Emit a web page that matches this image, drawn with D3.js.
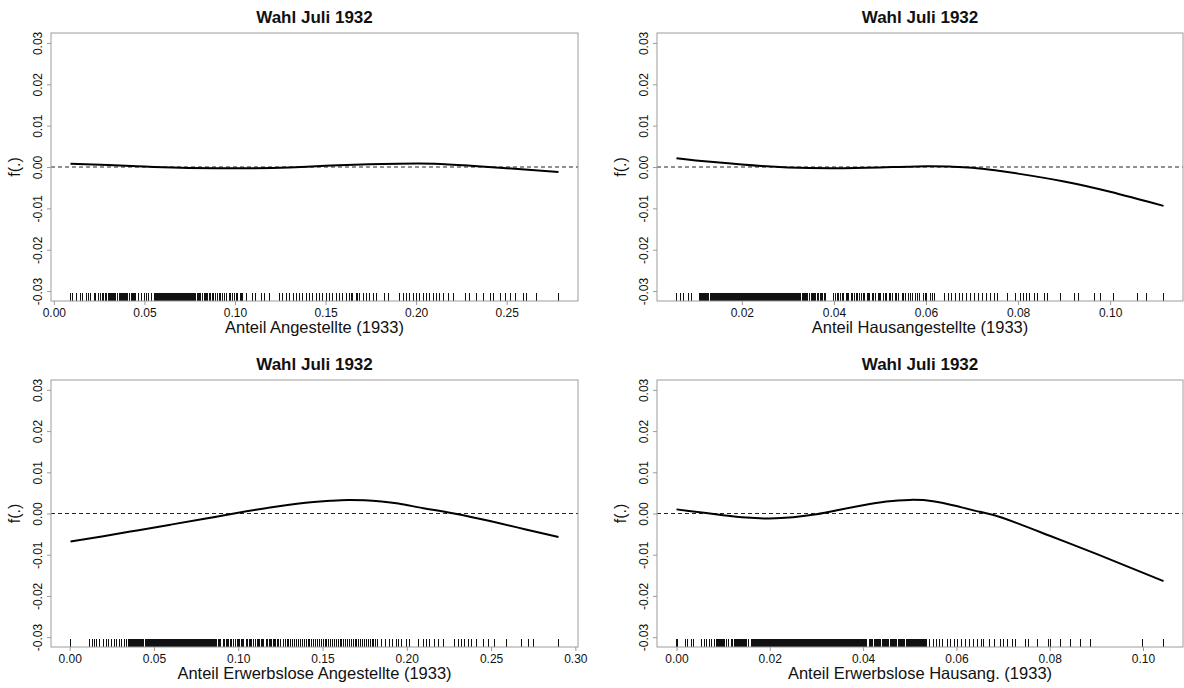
<!DOCTYPE html>
<html>
<head>
<meta charset="utf-8">
<script src="https://cdn.jsdelivr.net/npm/d3@7"></script>
<style>
  body { margin: 0; background: #fff; }
  text { font-family: "Liberation Sans", Arial, sans-serif; fill: #111; }
</style>
</head>
<body>
<div id="gam_plots"></div>
<script>
const rugAng = [
  0.0092, 0.0105, 0.0124, 0.0148, 0.0157, 0.0179, 0.0194, 0.0205, 0.0222, 0.0231, 0.0246, 0.0258,
  0.0271, 0.0275, 0.0283, 0.0287, 0.0292, 0.0301, 0.0305, 0.0311, 0.0319, 0.0323, 0.0331, 0.0335,
  0.0341, 0.0349, 0.0353, 0.0362, 0.0366, 0.0371, 0.0379, 0.0384, 0.0389, 0.0397, 0.0402, 0.0407,
  0.0415, 0.0419, 0.0426, 0.0433, 0.0437, 0.0443,
  0.0452, 0.0467, 0.0485, 0.0498, 0.0511, 0.0522, 0.0541, 0.0554,
  0.0563, 0.0569, 0.0575, 0.0581, 0.0588, 0.0595, 0.0600, 0.0608, 0.0614, 0.0622, 0.0627, 0.0634,
  0.0640, 0.0649, 0.0655, 0.0662, 0.0668, 0.0676, 0.0683, 0.0690, 0.0697, 0.0705, 0.0712, 0.0720,
  0.0728, 0.0735, 0.0741, 0.0749, 0.0757, 0.0766, 0.0774,
  0.0566, 0.0572, 0.0578, 0.0585, 0.0591, 0.0598, 0.0604, 0.0611, 0.0618, 0.0625, 0.0631, 0.0637,
  0.0644, 0.0652, 0.0658, 0.0665, 0.0672, 0.0680, 0.0686, 0.0694, 0.0701, 0.0708, 0.0716, 0.0724,
  0.0731, 0.0738, 0.0745, 0.0753, 0.0761, 0.0770,
  0.0784, 0.0799, 0.0812, 0.0830, 0.0840, 0.0858, 0.0877, 0.0891, 0.0913, 0.0932,
  0.0791, 0.0805, 0.0821, 0.0835, 0.0849, 0.0867, 0.0884, 0.0902, 0.0922, 0.0955, 0.0977, 0.1006,
  0.1035,
  0.0941, 0.0969, 0.0984, 0.0997, 0.1015, 0.1028, 0.1043,
  0.1061, 0.1098, 0.1116, 0.1144, 0.1162, 0.1190,
  0.1246, 0.1264, 0.1283, 0.1301, 0.1323, 0.1338, 0.1356, 0.1375, 0.1393, 0.1412, 0.1430, 0.1448,
  0.1467, 0.1485, 0.1504,
  0.1522, 0.1541, 0.1559, 0.1578, 0.1596, 0.1615, 0.1633, 0.1642, 0.1651, 0.1670, 0.1679, 0.1688,
  0.1707, 0.1725, 0.1744, 0.1762, 0.1781, 0.1827, 0.1845,
  0.1910, 0.1928, 0.1947, 0.1965, 0.1984, 0.2002, 0.2020, 0.2039, 0.2057, 0.2076, 0.2094, 0.2112,
  0.2131, 0.2149, 0.2177, 0.2205,
  0.2270, 0.2297, 0.2334, 0.2371, 0.2408, 0.2427, 0.2464, 0.2491, 0.2519, 0.2547, 0.2593, 0.2611,
  0.2666, 0.2786
];

const rugHaus = [
  0.0058, 0.0067, 0.0074, 0.0084, 0.0091,
  0.0107, 0.0110, 0.0114, 0.0117, 0.0121, 0.0125, 0.0128, 0.0133, 0.0136, 0.0140, 0.0144, 0.0147,
  0.0151, 0.0155, 0.0158, 0.0162, 0.0166, 0.0169, 0.0173, 0.0177, 0.0180, 0.0184, 0.0188, 0.0191,
  0.0195, 0.0199,
  0.0109, 0.0112, 0.0116, 0.0119, 0.0123, 0.0127, 0.0131, 0.0135, 0.0138, 0.0142, 0.0146, 0.0149,
  0.0153, 0.0157, 0.0160, 0.0164, 0.0168, 0.0171, 0.0175, 0.0179, 0.0182, 0.0186, 0.0190, 0.0193,
  0.0197, 0.0201,
  0.0203, 0.0206, 0.0209, 0.0212, 0.0215, 0.0218, 0.0221, 0.0224, 0.0227, 0.0230, 0.0233, 0.0236,
  0.0239, 0.0242, 0.0245, 0.0248, 0.0251, 0.0254, 0.0257, 0.0260, 0.0263, 0.0266, 0.0269, 0.0272,
  0.0275, 0.0279, 0.0283, 0.0288, 0.0292, 0.0296, 0.0301, 0.0305, 0.0310, 0.0314, 0.0319, 0.0323,
  0.0328, 0.0333, 0.0338, 0.0343, 0.0348, 0.0353, 0.0358, 0.0364, 0.0370, 0.0376, 0.0381,
  0.0204, 0.0207, 0.0211, 0.0214, 0.0217, 0.0220, 0.0223, 0.0226, 0.0229, 0.0232, 0.0235, 0.0238,
  0.0241, 0.0244, 0.0247, 0.0250, 0.0253, 0.0256, 0.0259, 0.0262, 0.0265, 0.0268, 0.0271, 0.0274,
  0.0277, 0.0281, 0.0286, 0.0290, 0.0294, 0.0299, 0.0303, 0.0308, 0.0312, 0.0317, 0.0321, 0.0326,
  0.0331, 0.0336, 0.0341, 0.0346, 0.0351, 0.0356, 0.0361, 0.0367, 0.0373, 0.0379,
  0.0399, 0.0404, 0.0410, 0.0415, 0.0421, 0.0427, 0.0432, 0.0438, 0.0444, 0.0449, 0.0455, 0.0461,
  0.0467, 0.0472, 0.0478, 0.0484, 0.0490, 0.0496, 0.0502, 0.0508, 0.0514, 0.0520, 0.0527, 0.0534,
  0.0541, 0.0548, 0.0555, 0.0562, 0.0570, 0.0578, 0.0586, 0.0594, 0.0601, 0.0610, 0.0619,
  0.0407, 0.0418, 0.0430, 0.0441, 0.0452, 0.0464, 0.0475, 0.0487, 0.0499, 0.0511, 0.0524, 0.0537,
  0.0551, 0.0566, 0.0582, 0.0598, 0.0614,
  0.0640, 0.0648, 0.0656, 0.0664, 0.0672, 0.0680, 0.0689, 0.0697, 0.0706, 0.0714, 0.0723, 0.0731,
  0.0740, 0.0748, 0.0756,
  0.0777, 0.0795, 0.0806, 0.0812, 0.0818, 0.0825, 0.0835, 0.0842, 0.0857, 0.0864, 0.0893, 0.0922,
  0.0932, 0.0965, 0.0979, 0.1008, 0.1059, 0.1080, 0.1116
];

const rugErwAng = [
  0.0005, 0.0119, 0.0133, 0.0146, 0.0162, 0.0178, 0.0202, 0.0217, 0.0231, 0.0251, 0.0265, 0.0280,
  0.0296, 0.0310, 0.0324,
  0.0340, 0.0347, 0.0352, 0.0358, 0.0366, 0.0371, 0.0378, 0.0384, 0.0389, 0.0397, 0.0402, 0.0408,
  0.0416, 0.0421, 0.0427, 0.0434, 0.0439,
  0.0448, 0.0453, 0.0459, 0.0466, 0.0471, 0.0477, 0.0484, 0.0489, 0.0495, 0.0502, 0.0507, 0.0513,
  0.0519, 0.0526, 0.0531, 0.0537, 0.0544, 0.0549, 0.0555, 0.0562, 0.0567, 0.0573, 0.0580, 0.0585,
  0.0591, 0.0598, 0.0603, 0.0609, 0.0616, 0.0621, 0.0627, 0.0634, 0.0639, 0.0645, 0.0652, 0.0657,
  0.0663, 0.0670, 0.0675, 0.0681, 0.0688, 0.0693, 0.0699, 0.0706, 0.0711, 0.0717, 0.0724, 0.0729,
  0.0735, 0.0742, 0.0747, 0.0753, 0.0760, 0.0765, 0.0771, 0.0778, 0.0783, 0.0789, 0.0796, 0.0801,
  0.0807, 0.0814, 0.0819, 0.0825, 0.0832, 0.0837, 0.0843, 0.0850, 0.0855, 0.0861, 0.0868, 0.0873,
  0.0881, 0.0890, 0.0897, 0.0914, 0.0921, 0.0929, 0.0937, 0.0945, 0.0953, 0.0961, 0.0969, 0.0985,
  0.0993, 0.1001, 0.1009, 0.1017, 0.1025, 0.1033, 0.1048, 0.1056, 0.1064, 0.1072, 0.1080, 0.1088,
  0.1104, 0.1112, 0.1120, 0.1128, 0.1136, 0.1144, 0.1152, 0.1168, 0.1176, 0.1184, 0.1192, 0.1200,
  0.1208, 0.1216, 0.1224, 0.1232, 0.1240, 0.1248,
  0.1268, 0.1279, 0.1290, 0.1301, 0.1313, 0.1324, 0.1335, 0.1346, 0.1358, 0.1369, 0.1380, 0.1391,
  0.1403, 0.1414, 0.1425, 0.1436, 0.1448, 0.1459, 0.1470, 0.1481, 0.1493, 0.1504, 0.1515, 0.1526,
  0.1538, 0.1549, 0.1560, 0.1571, 0.1583, 0.1594, 0.1604,
  0.1614, 0.1625, 0.1636, 0.1648, 0.1659, 0.1670, 0.1681, 0.1693, 0.1704, 0.1715, 0.1726, 0.1738,
  0.1749, 0.1760, 0.1771, 0.1783, 0.1794, 0.1805, 0.1816, 0.1828, 0.1850, 0.1872, 0.1895, 0.1917,
  0.1940, 0.1949, 0.1969, 0.1999, 0.2019,
  0.2068, 0.2098, 0.2118, 0.2137, 0.2167, 0.2187, 0.2216,
  0.2285, 0.2305, 0.2325, 0.2345, 0.2364, 0.2384, 0.2414,
  0.2453, 0.2483, 0.2522, 0.2591, 0.2680, 0.2720, 0.2749, 0.2900
];

const rugErwHaus = [
  0.0000, 0.0003, 0.0019, 0.0024, 0.0033, 0.0036, 0.0054, 0.0060, 0.0065, 0.0070, 0.0075, 0.0081,
  0.0086, 0.0089, 0.0093, 0.0096, 0.0100, 0.0103, 0.0124, 0.0128, 0.0131, 0.0135,
  0.0138, 0.0142, 0.0145, 0.0166, 0.0170, 0.0173, 0.0177, 0.0180, 0.0184, 0.0187, 0.0191, 0.0194,
  0.0198, 0.0201, 0.0205, 0.0208, 0.0212, 0.0215, 0.0219, 0.0222, 0.0226, 0.0229, 0.0233, 0.0236,
  0.0240, 0.0243, 0.0247, 0.0250, 0.0254, 0.0257, 0.0261, 0.0264, 0.0268, 0.0271, 0.0275, 0.0278,
  0.0282, 0.0285, 0.0289, 0.0292, 0.0296, 0.0299, 0.0303, 0.0306, 0.0310, 0.0313, 0.0317, 0.0320,
  0.0324, 0.0327, 0.0331, 0.0334, 0.0338, 0.0341, 0.0345, 0.0348, 0.0352, 0.0355, 0.0359, 0.0362,
  0.0366, 0.0369, 0.0373, 0.0376, 0.0380, 0.0383, 0.0387, 0.0390, 0.0394, 0.0397, 0.0401, 0.0404,
  0.0408,
  0.0088, 0.0091, 0.0095, 0.0098, 0.0102, 0.0126, 0.0129, 0.0133, 0.0137, 0.0140, 0.0143, 0.0147,
  0.0107, 0.0112, 0.0117, 0.0121, 0.0150, 0.0155, 0.0160, 0.0164,
  0.0168, 0.0172, 0.0175, 0.0179, 0.0182, 0.0186, 0.0189, 0.0193, 0.0196, 0.0200, 0.0203, 0.0207,
  0.0210, 0.0214, 0.0217, 0.0221, 0.0224, 0.0228, 0.0231, 0.0235, 0.0238, 0.0242, 0.0245, 0.0249,
  0.0252, 0.0256, 0.0259, 0.0263, 0.0266, 0.0270, 0.0273, 0.0277, 0.0280, 0.0284, 0.0287, 0.0291,
  0.0294, 0.0298, 0.0301, 0.0305, 0.0308, 0.0312, 0.0315, 0.0319, 0.0322, 0.0326, 0.0329, 0.0333,
  0.0336, 0.0340, 0.0343, 0.0347, 0.0350, 0.0354, 0.0357, 0.0361, 0.0364, 0.0368, 0.0371, 0.0375,
  0.0378, 0.0382, 0.0385, 0.0389, 0.0392, 0.0396, 0.0399, 0.0403, 0.0406,
  0.0413, 0.0417, 0.0421, 0.0426, 0.0430, 0.0434, 0.0438, 0.0443, 0.0447, 0.0451, 0.0455, 0.0460,
  0.0464, 0.0468, 0.0472, 0.0477, 0.0481, 0.0485, 0.0489, 0.0494, 0.0498, 0.0502, 0.0506, 0.0511,
  0.0515, 0.0519, 0.0523, 0.0528, 0.0532, 0.0536,
  0.0415, 0.0419, 0.0424, 0.0428, 0.0432, 0.0436, 0.0441, 0.0445, 0.0449, 0.0453, 0.0458, 0.0462,
  0.0466, 0.0470, 0.0475, 0.0479, 0.0483, 0.0487, 0.0492, 0.0496, 0.0500, 0.0504, 0.0509, 0.0513,
  0.0517, 0.0521, 0.0526, 0.0530, 0.0534,
  0.0543, 0.0550, 0.0557, 0.0564, 0.0571,
  0.0580, 0.0587, 0.0595, 0.0603, 0.0612, 0.0620, 0.0629, 0.0637, 0.0646, 0.0653, 0.0659,
  0.0670, 0.0681, 0.0695, 0.0702, 0.0709, 0.0720, 0.0727, 0.0748, 0.0755, 0.0773, 0.0798, 0.0802,
  0.0823, 0.0845, 0.0866, 0.0887, 0.0998, 0.1044
];

// fitted smooth f(.) for each covariate
const fitAngX = [0.0092, 0.03, 0.05, 0.07, 0.09, 0.11, 0.13, 0.15, 0.17, 0.19, 0.21, 0.23, 0.25, 0.2786];
const fitAngY = [0.0008, 0.0005, 0.0001, -0.0002, -0.0003, -0.0003, -0.0001, 0.0003, 0.0006, 0.0008, 0.0008, 0.0003, -0.0003, -0.0012];

const fitHausX = [0.0058, 0.01, 0.02, 0.03, 0.04, 0.05, 0.06, 0.065, 0.07, 0.075, 0.08, 0.09, 0.10, 0.1116];
const fitHausY = [0.0021, 0.0016, 0.0006, -0.0001, -0.0003, -0.0001, 0.0002, 0.0001, -0.0002, -0.0008, -0.0016, -0.0035, -0.0060, -0.0094];

const fitErwAngX = [0.0005, 0.02, 0.04, 0.06, 0.08, 0.10, 0.12, 0.14, 0.155, 0.165, 0.175, 0.185, 0.195, 0.21, 0.228, 0.25, 0.27, 0.29];
const fitErwAngY = [-0.0068, -0.0055, -0.0041, -0.0027, -0.0013, 0.0002, 0.0015, 0.0026, 0.0031, 0.0033, 0.0032, 0.0029, 0.0024, 0.0013, 0.0000, -0.0019, -0.0038, -0.0057];

const fitErwHausX = [0.000, 0.005, 0.01, 0.015, 0.02, 0.025, 0.03, 0.035, 0.04, 0.045, 0.05, 0.055, 0.06, 0.065, 0.07, 0.08, 0.09, 0.1044];
const fitErwHausY = [0.0010, 0.0003, -0.0004, -0.0010, -0.0012, -0.0009, -0.0002, 0.0009, 0.0020, 0.0029, 0.0033, 0.0030, 0.0018, 0.0004, -0.0011, -0.0054, -0.0098, -0.0164];

// axis ticks
const ticksAng = [0, 0.05, 0.10, 0.15, 0.20, 0.25];
const ticksHaus = [0.02, 0.04, 0.06, 0.08, 0.10];
const ticksErwAng = [0, 0.05, 0.10, 0.15, 0.20, 0.25, 0.30];
const ticksErwHaus = [0, 0.02, 0.04, 0.06, 0.08, 0.10];
const yTicks = [-0.03, -0.02, -0.01, 0, 0.01, 0.02, 0.03];
const yLim = [-0.03, 0.03];

const plotTitle = "Wahl Juli 1932";
const yTitle = "f(.)";
const xTitles = [
  "Anteil Angestellte (1933)",
  "Anteil Hausangestellte (1933)",
  "Anteil Erwerbslose Angestellte (1933)",
  "Anteil Erwerbslose Hausang. (1933)"
];

// ==========================================================================

var W = 1184, H = 688
var boxCol = "#9c9c9c"

var svg = d3.select("#gam_plots")
  .append("svg")
  .attr("width", W)
  .attr("height", H)

var panels = [
  { rug: rugAng, fx: fitAngX, fy: fitAngY, ticks: ticksAng, label: xTitles[0], x0: 51, x1: 578, y0: 33, y1: 301 },
  { rug: rugHaus, fx: fitHausX, fy: fitHausY, ticks: ticksHaus, label: xTitles[1], x0: 657, x1: 1183, y0: 33, y1: 301 },
  { rug: rugErwAng, fx: fitErwAngX, fy: fitErwAngY, ticks: ticksErwAng, label: xTitles[2], x0: 51, x1: 578, y0: 380, y1: 647 },
  { rug: rugErwHaus, fx: fitErwHausX, fy: fitErwHausY, ticks: ticksErwHaus, label: xTitles[3], x0: 657, x1: 1183, y0: 380, y1: 647 }
]

// R style range: data range stretched by 4% each side
function rLim(ext) {
  var d = (ext[1] - ext[0]) * 0.04
  return [ext[0] - d, ext[1] + d]
}

function fmt(v) { return v.toFixed(2) }

function drawPanel(p) {
  var g = svg.append("g")

  var x = d3.scaleLinear().domain(rLim(d3.extent(p.rug))).range([p.x0, p.x1])
  var y = d3.scaleLinear().domain(rLim(yLim)).range([p.y1, p.y0])

  // zero line
  g.append("line")
    .attr("x1", p.x0).attr("x2", p.x1)
    .attr("y1", y(0)).attr("y2", y(0))
    .attr("stroke", "#222")
    .attr("stroke-width", 1)
    .attr("stroke-dasharray", "4,3")

  // rug
  g.append("g").selectAll("line")
    .data(p.rug)
    .enter()
    .append("line")
    .attr("x1", d => x(d)).attr("x2", d => x(d))
    .attr("y1", p.y1 - 8).attr("y2", p.y1)
    .attr("stroke", "#111")
    .attr("stroke-width", 1)
    .attr("shape-rendering", "crispEdges")

  // fitted curve
  var pts = p.fx.map((v, i) => [v, p.fy[i]])
  g.append("path")
    .datum(pts)
    .attr("fill", "none")
    .attr("stroke", "#000")
    .attr("stroke-width", 2)
    .attr("d", d3.line().x(d => x(d[0])).y(d => y(d[1])).curve(d3.curveNatural))

  // box
  g.append("rect")
    .attr("x", p.x0).attr("y", p.y0)
    .attr("width", p.x1 - p.x0).attr("height", p.y1 - p.y0)
    .attr("fill", "none")
    .attr("stroke", boxCol)
    .attr("stroke-width", 1)

  // x axis
  var xa = g.append("g")
    .attr("transform", "translate(0," + p.y1 + ")")
    .call(d3.axisBottom(x).tickValues(p.ticks).tickFormat(fmt).tickSize(4).tickPadding(3))
  xa.select(".domain").remove()
  xa.selectAll("line").attr("stroke", boxCol)
  xa.selectAll("text").style("font-size", "12px").attr("fill", "#111")

  // y axis, labels turned like in R
  var ya = g.append("g")
    .attr("transform", "translate(" + p.x0 + ",0)")
    .call(d3.axisLeft(y).tickValues(yTicks).tickFormat(fmt).tickSize(4))
  ya.select(".domain").remove()
  ya.selectAll("line").attr("stroke", boxCol)
  ya.selectAll("text")
    .style("font-size", "12px")
    .attr("fill", "#111")
    .attr("text-anchor", "middle")
    .attr("x", 0).attr("y", -9).attr("dy", null)
    .attr("transform", "rotate(-90)")

  // titles
  g.append("text")
    .attr("x", (p.x0 + p.x1) / 2).attr("y", p.y0 - 10)
    .attr("text-anchor", "middle")
    .style("font-size", "17px")
    .style("font-weight", "bold")
    .text(plotTitle)

  g.append("text")
    .attr("x", (p.x0 + p.x1) / 2).attr("y", p.y1 + 32)
    .attr("text-anchor", "middle")
    .style("font-size", "16.5px")
    .text(p.label)

  g.append("text")
    .attr("transform", "translate(" + (p.x0 - 31) + "," + ((p.y0 + p.y1) / 2) + ") rotate(-90)")
    .attr("text-anchor", "middle")
    .style("font-size", "16px")
    .text(yTitle)
}

panels.forEach(drawPanel)
</script>
</body>
</html>
